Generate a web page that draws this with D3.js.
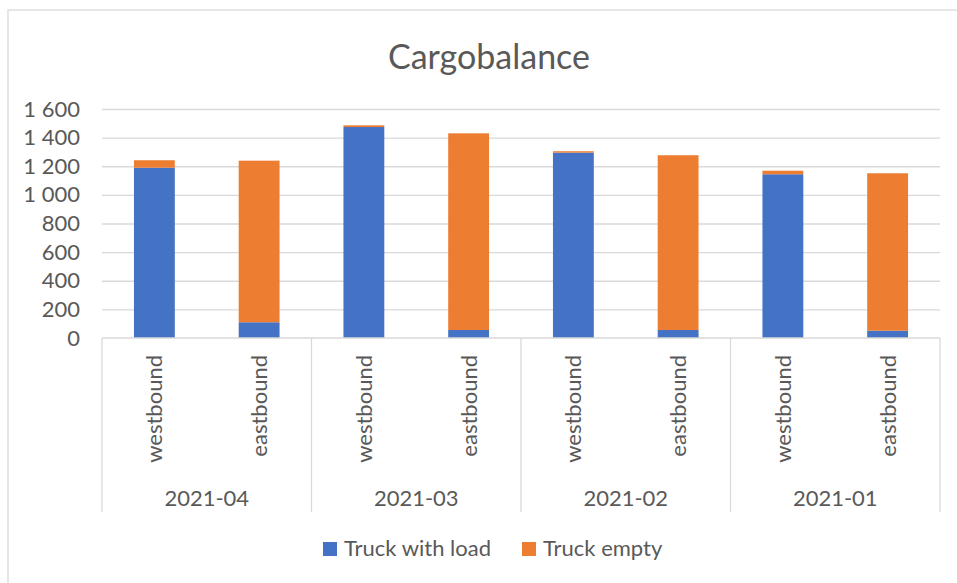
<!DOCTYPE html>
<html>
<head>
<meta charset="utf-8">
<script src="https://d3js.org/d3.v7.min.js"></script>
<style>
  body { margin: 0; background: #fff; }
  text { font-family: Lato, "Open Sans", sans-serif; fill: #595959; }
</style>
</head>
<body>
<div id="chart"></div>
<script>
// data
var months = ["2021-04", "2021-03", "2021-02", "2021-01"];
var directions = ["westbound", "eastbound"];
var seriesNames = ["Truck with load", "Truck empty"];
var withLoad = [1190, 110, 1474, 56, 1295, 56, 1144, 51];
var empty = [52, 1129, 12, 1374, 10, 1221, 25, 1100];
var yTicks = [0, 200, 400, 600, 800, 1000, 1200, 1400, 1600];

var colors = ["#4472C4", "#ED7D31"];
var W = 957, H = 583;
var plotL = 102, plotR = 940, plotT = 109, plotB = 338;

var svg = d3.select("#chart").append("svg")
    .attr("width", W)
    .attr("height", H);

// chart frame
svg.append("rect")
    .attr("x", 8).attr("y", 10)
    .attr("width", 960).attr("height", 600)
    .attr("fill", "#fff")
    .attr("stroke", "#d9d9d9")
    .attr("stroke-width", 1.3);

// rows: one per bar
var rows = [];
months.forEach(function(m, i) {
  directions.forEach(function(d, j) {
    var k = i * directions.length + j;
    rows.push({ key: k, month: m, dir: d, load: withLoad[k], empty: empty[k] });
  });
});

var x = d3.scaleBand()
    .domain(rows.map(function(d) { return d.key; }))
    .range([plotL, plotR])
    .paddingInner(0.61)
    .paddingOuter(0.305);

var xg = d3.scaleBand()
    .domain(months)
    .range([plotL, plotR]);

var y = d3.scaleLinear()
    .domain([0, 1600])
    .range([plotB, plotT]);

var fmt = d3.formatLocale({ decimal: ",", thousands: " ", grouping: [3], currency: ["", ""] }).format(",");

// gridlines + y labels
var yAxis = svg.append("g")
    .attr("transform", "translate(" + plotL + ",0)")
    .call(d3.axisLeft(y).tickValues(yTicks).tickFormat(fmt).tickSize(-(plotR - plotL)).tickPadding(22));
yAxis.select(".domain").remove();
yAxis.selectAll(".tick line")
    .attr("stroke", function(d) { return d === 0 ? "none" : "#d9d9d9"; })
    .attr("stroke-width", 1.3);
yAxis.selectAll(".tick text")
    .style("font-family", "Lato, sans-serif")
    .style("font-size", "22px")
    .attr("fill", "#595959");

// stacked bars
var stack = d3.stack().keys(["load", "empty"]);
var layers = stack(rows);

svg.append("g").selectAll("g")
  .data(layers)
  .enter().append("g")
    .attr("fill", function(d, i) { return colors[i]; })
  .selectAll("rect")
  .data(function(d) { return d; })
  .enter().append("rect")
    .attr("x", function(d) { return x(d.data.key); })
    .attr("width", x.bandwidth())
    .attr("y", function(d) { return y(d[1]); })
    .attr("height", function(d) { return y(d[0]) - y(d[1]); });

// category axis lines
var axisCol = "#d9d9d9";
svg.append("line")
    .attr("x1", plotL).attr("x2", plotR)
    .attr("y1", plotB).attr("y2", plotB)
    .attr("stroke", axisCol).attr("stroke-width", 1.3);

var seps = months.map(function(m) { return xg(m); }).concat([plotR]);
svg.append("g").selectAll("line")
  .data(seps)
  .enter().append("line")
    .attr("x1", function(d) { return d; })
    .attr("x2", function(d) { return d; })
    .attr("y1", plotB)
    .attr("y2", 512)
    .attr("stroke", axisCol).attr("stroke-width", 1.3);

// direction labels (rotated)
svg.append("g").selectAll("text")
  .data(rows)
  .enter().append("text")
    .attr("transform", function(d) {
      return "translate(" + (x(d.key) + x.bandwidth() / 2 + 8) + ",355) rotate(-90)";
    })
    .attr("text-anchor", "end")
    .style("font-size", "22px")
    .text(function(d) { return d.dir; });

// month labels
svg.append("g").selectAll("text")
  .data(months)
  .enter().append("text")
    .attr("x", function(d) { return xg(d) + xg.bandwidth() / 2; })
    .attr("y", 506)
    .attr("text-anchor", "middle")
    .style("font-size", "22px")
    .text(function(d) { return d; });

// title
svg.append("text")
    .attr("x", 489)
    .attr("y", 69)
    .attr("text-anchor", "middle")
    .style("font-size", "34px")
    .text("Cargobalance");

// legend
var legX = [323, 522];
var leg = svg.append("g").selectAll("g")
  .data(seriesNames)
  .enter().append("g")
    .attr("transform", function(d, i) { return "translate(" + legX[i] + ",542)"; });
leg.append("rect")
    .attr("width", 14).attr("height", 14)
    .attr("fill", function(d, i) { return colors[i]; });
leg.append("text")
    .attr("x", 21)
    .attr("y", 14)
    .style("font-size", "22px")
    .text(function(d) { return d; });
</script>
</body>
</html>
